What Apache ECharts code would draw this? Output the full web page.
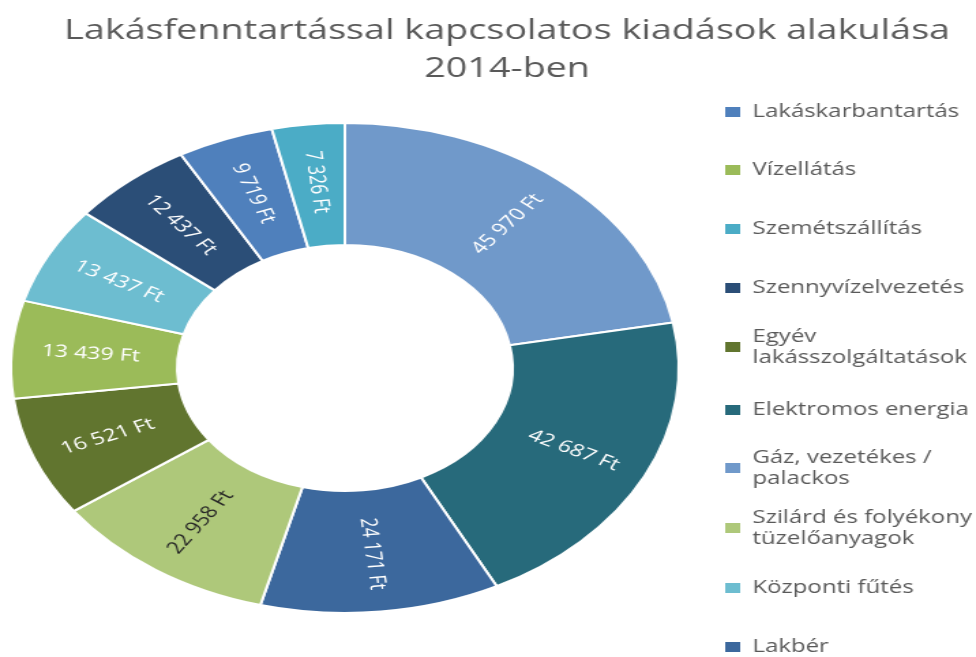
<!DOCTYPE html>
<html>
<head>
<meta charset="utf-8">
<script src="https://cdn.jsdelivr.net/npm/echarts@6/dist/echarts.min.js"></script>
<style>
  html, body { margin: 0; padding: 0; background: #fff; overflow: hidden; }
  /* the reference is stretched horizontally, so draw narrow and stretch */
  #chart { width: 716px; height: 657px; transform: scaleX(1.3631); transform-origin: 0 0; }
</style>
</head>
<body>
<div id="chart"></div>
<script>
// slices, clockwise from the top
const categories = [
  'Gáz, vezetékes / palackos',
  'Elektromos energia',
  'Lakbér',
  'Szilárd és folyékony tüzelőanyagok',
  'Egyév lakásszolgáltatások',
  'Vízellátás',
  'Központi fűtés',
  'Szennyvízelvezetés',
  'Lakáskarbantartás',
  'Szemétszállítás'
]
const values = [45970, 42687, 24171, 22958, 16521, 13439, 13437, 12437, 9719, 7326]
const colors = ['#7099ca', '#276a7b', '#3c689d', '#aec87a', '#61752f', '#9bbb59', '#6dbdd0', '#2b4e77', '#4f80bc', '#4bacc6']
const labelColors = ['#fff', '#fff', '#fff', '#262626', '#fff', '#fff', '#fff', '#fff', '#fff', '#fff']

// legend order as shown on the right
const legendNames = [
  'Lakáskarbantartás',
  'Vízellátás',
  'Szemétszállítás',
  'Szennyvízelvezetés',
  'Egyév lakásszolgáltatások',
  'Elektromos energia',
  'Gáz, vezetékes / palackos',
  'Szilárd és folyékony tüzelőanyagok',
  'Központi fűtés',
  'Lakbér'
]
const legendLabels = {
  'Egyév lakásszolgáltatások': 'Egyév\nlakásszolgáltatások',
  'Gáz, vezetékes / palackos': 'Gáz, vezetékes /\npalackos',
  'Szilárd és folyékony tüzelőanyagok': 'Szilárd és folyékony\ntüzelőanyagok'
}

const fmt = (v) => String(v).replace(/\B(?=(\d{3})+(?!\d))/g, ' ') + ' Ft'

const legendCenters = [112, 170, 229, 288, 347, 410, 468, 528, 588, 647]
const lineH = 21

const chart = echarts.init(document.getElementById('chart'))

const legends = legendNames.map((name, i) => {
  const lines = (legendLabels[name] || name).split('\n').length
  return {
    data: [name],
    orient: 'vertical',
    left: 530,
    top: legendCenters[i] - (lines * lineH) / 2,
    itemWidth: 13,
    itemHeight: 12,
    icon: 'rect',
    padding: 0,
    selectedMode: false,
    formatter: (n) => legendLabels[n] || n,
    textStyle: {
      fontFamily: 'Open Sans',
      fontSize: 17.6,
      lineHeight: lineH,
      color: '#595959',
      padding: [0, 0, 0, 3]
    }
  }
})

chart.setOption({
  animation: false,
  title: {
    text: 'Lakásfenntartással kapcsolatos kiadások alakulása\n2014-ben',
    left: 367,
    textAlign: 'center',
    top: 7,
    textStyle: {
      fontFamily: 'Open Sans',
      fontWeight: 'normal',
      fontSize: 27.7,
      lineHeight: 38,
      color: '#595959'
    }
  },
  legend: legends,
  series: [
    {
      type: 'pie',
      center: [253, 368],
      radius: [123, 245],
      startAngle: 90,
      clockwise: true,
      avoidLabelOverlap: false,
      itemStyle: { borderColor: '#fff', borderWidth: 2 },
      label: {
        position: 'inside',
        rotate: 'radial',
        fontFamily: 'Open Sans',
        fontSize: 17,
        formatter: (p) => fmt(p.value)
      },
      labelLine: { show: false },
      emphasis: { disabled: true },
      data: categories.map((name, i) => ({
        name,
        value: values[i],
        itemStyle: { color: colors[i] },
        label: { color: labelColors[i] }
      }))
    }
  ]
})
</script>
</body>
</html>
